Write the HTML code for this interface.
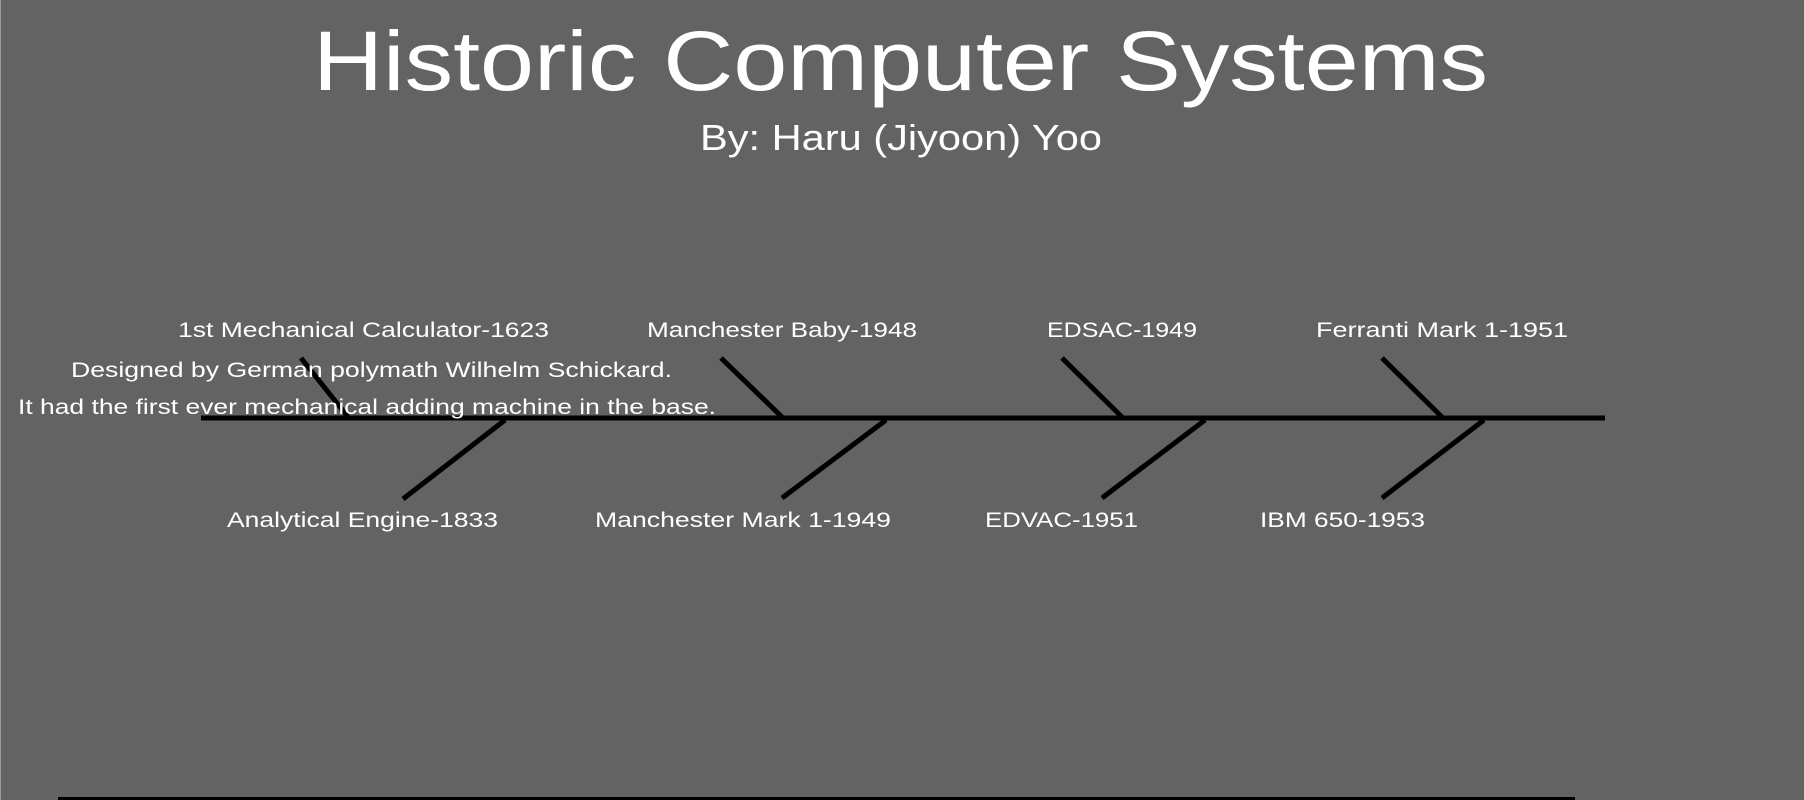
<!DOCTYPE html>
<html><head><meta charset="utf-8"><style>
html,body{margin:0;padding:0;background:#636363;}
svg{display:block}
text{font-family:"Liberation Sans",sans-serif;fill:#fff}
</style></head><body>
<svg width="1804" height="800" viewBox="0 0 1804 800" xmlns="http://www.w3.org/2000/svg">
<rect width="1804" height="800" fill="#636363"/>
<line x1="0.5" y1="0" x2="0.5" y2="800" stroke="#9a9a9a" stroke-width="1"/>
<rect x="58" y="797" width="1517" height="3" fill="#000"/>
<text x="313" y="90" font-size="84" textLength="1175" lengthAdjust="spacingAndGlyphs">Historic Computer Systems</text>
<text x="700" y="150" font-size="36" textLength="402" lengthAdjust="spacingAndGlyphs">By: Haru (Jiyoon) Yoo</text>
<g stroke="#000" stroke-width="5" stroke-linecap="butt">
<line x1="201" y1="418" x2="1605" y2="418"/>
<line x1="301" y1="358" x2="348" y2="417"/>
<line x1="505" y1="420" x2="403" y2="499"/>
<line x1="721" y1="358" x2="782" y2="417"/>
<line x1="886" y1="420" x2="782" y2="498"/>
<line x1="1062" y1="358" x2="1122" y2="417"/>
<line x1="1205" y1="420" x2="1102" y2="498"/>
<line x1="1382" y1="358" x2="1442" y2="417"/>
<line x1="1484" y1="420" x2="1382" y2="498"/>
</g>
<g font-size="21">
<text x="178" y="337" textLength="371" lengthAdjust="spacingAndGlyphs">1st Mechanical Calculator-1623</text>
<text x="647" y="337" textLength="270" lengthAdjust="spacingAndGlyphs">Manchester Baby-1948</text>
<text x="1047" y="337" textLength="150" lengthAdjust="spacingAndGlyphs">EDSAC-1949</text>
<text x="1316" y="337" textLength="252" lengthAdjust="spacingAndGlyphs">Ferranti Mark 1-1951</text>
<text x="71" y="377" textLength="601" lengthAdjust="spacingAndGlyphs">Designed by German polymath Wilhelm Schickard.</text>
<text x="18" y="414" textLength="698" lengthAdjust="spacingAndGlyphs">It had the first ever mechanical adding machine in the base.</text>
<text x="227" y="527" textLength="271" lengthAdjust="spacingAndGlyphs">Analytical Engine-1833</text>
<text x="595" y="527" textLength="296" lengthAdjust="spacingAndGlyphs">Manchester Mark 1-1949</text>
<text x="985" y="527" textLength="153" lengthAdjust="spacingAndGlyphs">EDVAC-1951</text>
<text x="1260" y="527" textLength="165" lengthAdjust="spacingAndGlyphs">IBM 650-1953</text>
</g>
</svg>
</body></html>
